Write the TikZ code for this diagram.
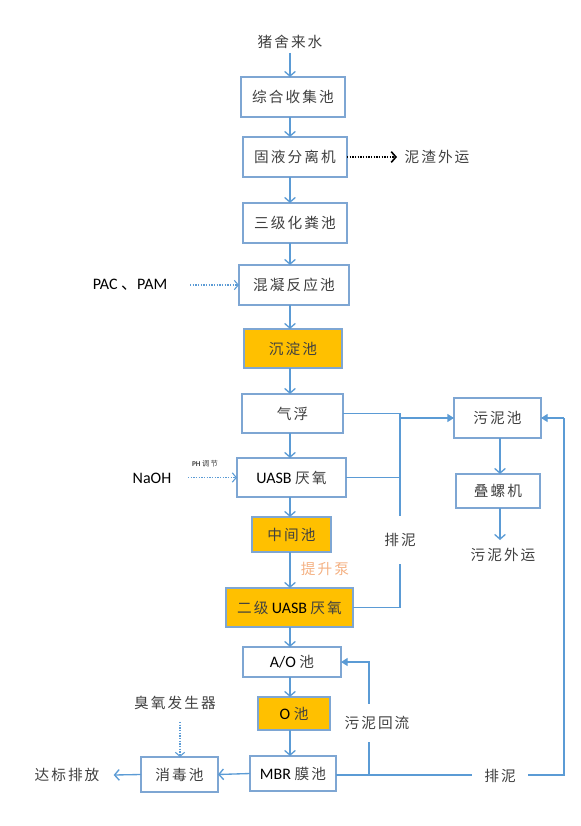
\documentclass[tikz,border=0pt]{standalone}
\usepackage{fontspec}
\setmainfont{Carlito}
\newfontfamily\cjk[LetterSpace=14]{Noto Sans CJK SC}
\usetikzlibrary{arrows.meta}
\definecolor{boxblue}{HTML}{7EA6D3}
\definecolor{lineblue}{HTML}{5B9BD5}
\definecolor{orangefill}{HTML}{FFC000}
\definecolor{txtgray}{HTML}{404040}
\definecolor{pump}{HTML}{F4B183}
\begin{document}
\begin{tikzpicture}[x=0.75pt,y=-0.75pt,
  every node/.style={inner sep=0pt,outer sep=0pt},
  box/.style={draw=boxblue,line width=1.1pt,fill=white,align=center,font=\fontsize{11}{13}\selectfont\color{txtgray}},
  obox/.style={box,fill=orangefill},
  lbl/.style={font=\fontsize{11}{13}\selectfont\color{txtgray}},
  lat/.style={font=\fontsize{12}{14}\selectfont},
  arr/.style={draw=lineblue,line width=1pt,-{Straight Barb[length=3.5pt,width=8pt,line width=1pt]}},
  tarr/.style={draw=lineblue,line width=1pt,-{Triangle[length=5pt,width=6pt]}},
  ln/.style={draw=lineblue,line width=1pt},
  darr/.style={draw=lineblue,line width=1pt,dash pattern=on 1pt off 1pt,-{Straight Barb[length=3pt,width=7pt,line width=0.8pt]}},
  karr/.style={draw=black,line width=1.1pt,dash pattern=on 1pt off 1pt,-{Straight Barb[length=3.5pt,width=8pt,line width=1.2pt]}}
]
\useasboundingbox (0,0) rectangle (581,826);
\coordinate (ax) at (290,0);

% main column
\node[lbl] (src) at (290,42) {\cjk 猪舍来水};
\node[box,minimum width=78pt,minimum height=30pt] (A) at (293,97) {\cjk 综合收集池};
\node[box,minimum width=78pt,minimum height=30pt] (B) at (295,157) {\cjk 固液分离机};
\node[box,minimum width=78pt,minimum height=30pt] (C) at (295,223) {\cjk 三级化粪池};
\node[box,minimum width=82.5pt,minimum height=30pt] (D) at (294,285) {\cjk 混凝反应池};
\node[obox,minimum width=73.5pt,minimum height=29.25pt] (E) at (293,348.5) {\cjk 沉淀池};
\node[box,minimum width=75.75pt,minimum height=29.25pt] (F) at (292.5,413.5) {\cjk 气浮};
\node[box,minimum width=81.75pt,minimum height=29.25pt] (G) at (291.5,477.5) {\color{black}\fontsize{12}{14}\selectfont UASB {\cjk\fontsize{11}{13}\selectfont\color{txtgray} 厌氧}};
\node[obox,minimum width=59.25pt,minimum height=26.25pt] (H) at (291.5,534.5) {\cjk 中间池};
\node[obox,minimum width=95.25pt,minimum height=29.25pt] (I) at (289.5,607.5) {{\cjk 二级} {\color{black}\fontsize{12}{14}\selectfont UASB} {\cjk 厌氧}};
\node[box,minimum width=73.5pt,minimum height=22.5pt] (J) at (292,662) {\color{black}\fontsize{12}{14}\selectfont A/O {\cjk\fontsize{11}{13}\selectfont\color{txtgray} 池}};
\node[obox,minimum width=54pt,minimum height=24.75pt] (K) at (294,713.5) {\color{black}\fontsize{12}{14}\selectfont O {\cjk\fontsize{11}{13}\selectfont\color{txtgray} 池}};
\node[box,minimum width=64.5pt,minimum height=26.25pt] (L) at (293,773.5) {\color{black}\fontsize{12}{14}\selectfont MBR {\cjk\fontsize{11}{13}\selectfont\color{txtgray} 膜池}};
\node[box,minimum width=57.75pt,minimum height=26.25pt] (M) at (179.5,774.5) {\cjk 消毒池};
\node[lbl] (out) at (67,775) {\cjk 达标排放};

% sludge branch
\node[box,minimum width=65.25pt,minimum height=30pt] (N) at (497.5,418) {\cjk 污泥池};
\node[box,minimum width=63pt,minimum height=25.5pt] (P) at (498,491) {\cjk 叠螺机};
\node[lbl] (sout) at (503,555) {\cjk 污泥外运};

% side inputs
\node[lbl] (slag) at (437,157) {\cjk 泥渣外运};
\node[lat] (pac) at (130,285) {PAC {\cjk 、}PAM};
\node[lat] (naoh) at (152,478) {NaOH};
\node[font=\fontsize{5.5}{6}\selectfont\color{txtgray}] (ph) at (205,464) {\textbf{PH} {\cjk 调节}};
\node[lbl] (ozone) at (175,703) {\cjk 臭氧发生器};
\node[font=\fontsize{11}{13}\selectfont\color{pump}] (pump) at (325,569) {\cjk 提升泵};

% main column arrows
\draw[arr] (src.south -| ax) ++(0,4) -- (A.north -| ax);
\draw[arr] (A.south -| ax) -- (B.north -| ax);
\draw[arr] (B.south -| ax) -- (C.north -| ax);
\draw[arr] (C.south -| ax) -- (D.north -| ax);
\draw[arr] (D.south -| ax) -- (E.north -| ax);
\draw[arr] (E.south -| ax) -- (F.north -| ax);
\draw[arr] (F.south -| ax) -- (G.north -| ax);
\draw[arr] (G.south -| ax) -- (H.north -| ax);
\draw[arr] (H.south -| ax) -- (I.north -| ax);
\draw[arr] (I.south -| ax) -- (J.north -| ax);
\draw[arr] (J.south -| ax) -- (K.north -| ax);
\draw[arr] (K.south -| ax) -- (L.north -| ax);
\draw[arr] (L.west) -- (M.east);
\draw[arr] (M.west) -- ([xshift=-1pt]out.east -| 115,0);

% side arrows
\draw[karr] (B.east) -- ++(50,0) coordinate (slagend);
\draw[darr] (190,285) coordinate (pacs) -- (D.west);
\draw[darr] (188,477.5) coordinate (naohs) -- (G.west);
\draw[darr] (180,722) coordinate (ozs) -- (M.north -| ozs);

% sludge collection
\coordinate (j) at (400,418);
\draw[ln] (F.east) -- (F.east -| j) -- (I.east -| j) -- (I.east);
\draw[ln] (G.east) -- (G.east -| j);
\draw[tarr] (j) -- (N.west);
\node[lbl,fill=white,inner sep=3pt,minimum height=36pt] (pn1) at (400,540) {\cjk 排泥};
\draw[arr] (N.south -| 500,0) -- (P.north -| 500,0);
\draw[arr] (P.south -| 500,0) -- ++(0,32) coordinate (pend);

% MBR returns
\coordinate (r) at (564,775);
\coordinate (rb) at (369,775);
\draw[ln] (L.east |- rb) -- (r) -- (r |- N.east);
\draw[tarr] (r |- N.east) -- (N.east);
\draw[tarr] (rb) -- (rb |- J.east) -- (J.east);
\node[lbl,fill=white,inner sep=4pt,minimum width=42pt] (pn2) at (500,776) {\cjk 排泥};
\node[lbl,fill=white,inner sep=3pt,minimum height=28pt] (back) at (377,723) {\cjk 污泥回流};
\end{tikzpicture}
\end{document}
